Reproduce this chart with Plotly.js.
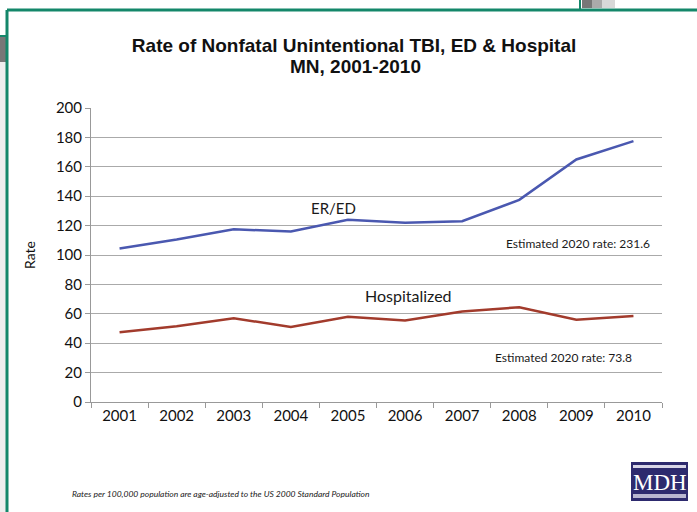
<!DOCTYPE html>
<html><head><meta charset="utf-8">
<script src="https://cdn.plot.ly/plotly-3.0.1.min.js"></script>
<style>html,body{margin:0;padding:0;background:#fff}#c{width:697px;height:512px}</style>
</head><body><div id="c"></div>
<script>
const years = ['2001','2002','2003','2004','2005','2006','2007','2008','2009','2010'];
const erEd = [104.5, 110.5, 117.5, 116, 124, 122, 123, 137.5, 165, 177.5];
const hospitalized = [47.5, 51.5, 57, 51, 58, 55.5, 61.5, 64.5, 56, 58.5];
const yTicks = [0,20,40,60,80,100,120,140,160,180,200];

const L=91, R=662, T=108, B=402;
const px = x => (x-L)/(R-L);
const py = y => (B-y)/(B-T);

const traces = [
  {x: years, y: erEd, type:'scatter', mode:'lines', line:{color:'#4a58b0', width:2.5}, name:'ER/ED'},
  {x: years, y: hospitalized, type:'scatter', mode:'lines', line:{color:'#a23b2c', width:2.5}, name:'Hospitalized'}
];

const F = 'Lato, "Open Sans", sans-serif';
const TF = '"Liberation Sans", Arial, sans-serif';
function ann(text, x, y, size, extra){
  return Object.assign({text, xref:'paper', yref:'paper', x:px(x), y:py(y), xanchor:'center', yanchor:'middle',
    showarrow:false, font:{family:F, size, color:'#1a1a1a'}}, extra||{});
}
const layout = {
  width:697, height:512,
  margin:{l:L, r:697-R, t:T, b:512-B},
  paper_bgcolor:'#fff', plot_bgcolor:'#fff',
  showlegend:false,
  title:{text:'<b>Rate of Nonfatal Unintentional TBI, ED & Hospital</b>',
    font:{family:TF, size:19, color:'#111'},
    x:0.508, xanchor:'center', y:1-45/512, yanchor:'middle'},
  xaxis:{type:'category', tickson:'boundaries', ticks:'outside', ticklen:5, tickcolor:'#999',
    showline:true, linecolor:'#999', linewidth:1, showgrid:false,
    tickfont:{family:F, size:15, color:'#111'}, range:[-0.5,9.5], fixedrange:true},
  yaxis:{range:[0,200], tickvals:yTicks, ticks:'outside', ticklen:5, tickcolor:'#999',
    showline:true, linecolor:'#999', linewidth:1, gridcolor:'#aaa', gridwidth:1,
    tickfont:{family:F, size:15, color:'#111'}, zeroline:false,
    title:{text:'Rate', font:{family:F, size:14, color:'#111'}, standoff:16}},
  annotations:[
    ann('<b>MN, 2001-2010</b>', 355, 67, 19, {font:{family:TF, size:19, color:'#111'}}),
    ann('ER/ED', 333, 208, 15),
    ann('Hospitalized', 408, 295, 16),
    ann('Estimated 2020 rate: 231.6', 578, 243, 12),
    ann('Estimated 2020 rate: 73.8', 563, 357, 12),
    ann('<i>Rates per 100,000 population are age-adjusted to the US 2000 Standard Population</i>', 70, 494, 8.5, {xanchor:'left'}),
    ann('MDH', 659.5, 482, 23, {font:{family:'"Liberation Serif", "DejaVu Serif", serif', size:23, color:'#fff'}})
  ],
  shapes:[
    {type:'rect', xref:'paper', yref:'paper', x0:px(582), x1:px(592), y0:py(0), y1:py(8), fillcolor:'#777', line:{width:0}, layer:'below'},
    {type:'rect', xref:'paper', yref:'paper', x0:px(592), x1:px(602), y0:py(0), y1:py(8), fillcolor:'#aaa', line:{width:0}, layer:'below'},
    {type:'rect', xref:'paper', yref:'paper', x0:px(602), x1:px(615), y0:py(0), y1:py(8), fillcolor:'#d8d8d8', line:{width:0}, layer:'below'},
    {type:'rect', xref:'paper', yref:'paper', x0:px(0), x1:px(6), y0:py(37), y1:py(62), fillcolor:'#777', line:{width:0}, layer:'below'},
    {type:'rect', xref:'paper', yref:'paper', x0:px(0), x1:px(6), y0:py(62), y1:py(512), fillcolor:'#eee', line:{width:0}, layer:'below'},
    {type:'line', xref:'paper', yref:'paper', x0:px(0), x1:px(7), y0:py(36), y1:py(36), line:{color:'#14876a', width:2}},
    {type:'line', xref:'paper', yref:'paper', x0:px(580), x1:px(580), y0:py(0), y1:py(10), line:{color:'#14876a', width:2}},
    {type:'line', xref:'paper', yref:'paper', x0:px(7), x1:px(697), y0:py(10), y1:py(10), line:{color:'#14876a', width:3}},
    {type:'line', xref:'paper', yref:'paper', x0:px(7), x1:px(7), y0:py(10), y1:py(512), line:{color:'#14876a', width:3}},
    {type:'rect', xref:'paper', yref:'paper', x0:px(631), x1:px(688), y0:py(462), y1:py(501), fillcolor:'#2d2a6e', line:{width:0}, layer:'below'},
    {type:'rect', xref:'paper', yref:'paper', x0:px(633), x1:px(686), y0:py(494), y1:py(498), fillcolor:'#b8b6d0', line:{width:0}, layer:'below'},
    {type:'rect', xref:'paper', yref:'paper', x0:px(633), x1:px(686), y0:py(465), y1:py(468), fillcolor:'#d8d6e8', line:{width:0}, layer:'below'}
  ]
};
Plotly.newPlot('c', traces, layout, {displayModeBar:false, staticPlot:true});
</script></body></html>
